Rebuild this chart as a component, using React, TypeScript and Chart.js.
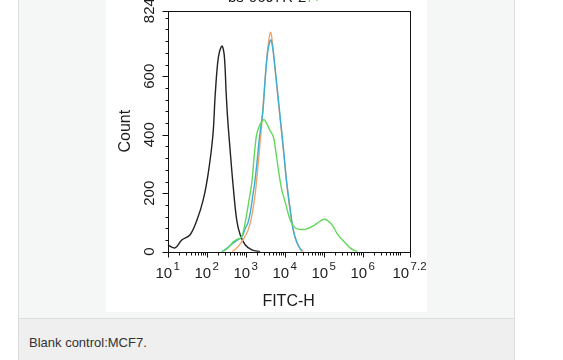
import React, { useEffect, useRef } from "react";
import { Chart, registerables } from "chart.js";

Chart.register(...registerables);

// FITC-H position in decades (log10 of intensity) and cell counts
const blankLog = [1.0, 1.19, 1.36, 1.57, 1.75, 1.91, 2.04, 2.16, 2.22, 2.3, 2.39, 2.45, 2.5, 2.54, 2.6, 2.68, 2.77, 2.86, 2.99, 3.16, 3.37];
const blankCount = [23, 13, 40, 57, 108, 177, 269, 400, 540, 665, 703, 672, 540, 450, 348, 222, 108, 57, 23, 6, 0];

const orangeLog = [2.65, 2.75, 2.85, 2.95, 3.05, 3.12, 3.18, 3.24, 3.3, 3.36, 3.42, 3.48, 3.54, 3.6, 3.64, 3.68, 3.74, 3.8, 3.87, 3.94, 4.01, 4.08, 4.16, 4.25, 4.35, 4.48];
const orangeCount = [0, 10, 25, 45, 70, 100, 140, 195, 270, 360, 450, 560, 660, 730, 750, 720, 640, 560, 470, 380, 290, 200, 120, 55, 20, 0];

const cyanLog = [2.39, 2.55, 2.68, 2.81, 2.91, 2.99, 3.06, 3.12, 3.18, 3.24, 3.3, 3.36, 3.44, 3.5, 3.56, 3.62, 3.65, 3.7, 3.76, 3.83, 3.9, 3.97, 4.04, 4.12, 4.22, 4.32, 4.44];
const cyanCount = [0, 15, 30, 42, 52, 80, 100, 135, 190, 245, 320, 400, 480, 590, 680, 720, 724, 690, 620, 530, 440, 350, 250, 166, 74, 30, 0];

const greenLog = [2.39, 2.5, 2.6, 2.68, 2.78, 2.86, 2.92, 2.98, 3.03, 3.09, 3.16, 3.22, 3.28, 3.35, 3.42, 3.47, 3.55, 3.62, 3.71, 3.78, 3.84, 3.92, 4.02, 4.14, 4.24, 4.32, 4.45, 4.57, 4.7, 4.83, 4.95, 5.04, 5.12, 5.22, 5.34, 5.45, 5.56, 5.67, 5.77, 5.87];
const greenCount = [0, 8, 20, 34, 42, 46, 60, 95, 132, 180, 240, 330, 400, 430, 445, 452, 435, 415, 393, 335, 279, 215, 166, 108, 85, 78, 76, 78, 86, 97, 108, 111, 104, 91, 63, 44, 29, 14, 5, 0];

const xMajorTicks = [1, 2, 3, 4, 5, 6, 7.2];
const xTickExponents = ["1", "2", "3", "4", "5", "6", "7.2"];
const yMajorTicks = [0, 200, 400, 600, 824];
const yTickLabels = ["0", "200", "400", "600", "824"];

const titleBlack = "bs-0697R-2";
const titleGreen = "/+";
const xTitle = "FITC-H";
const yTitle = "Count";
const caption = "Blank control:MCF7.";

const FONT = '"Liberation Sans", Arial, sans-serif';
const INK = "#1c1c1c";

const pts = (xs: number[], ys: number[]) => xs.map((x, i) => ({ x, y: ys[i] }));

const axesPlugin = {
  id: "flowAxes",
  afterDraw(chart: any) {
    const { ctx, chartArea, scales } = chart;
    const xs = scales.x;
    const ys = scales.y;
    const L = Math.round(chartArea.left) + 0.5;
    const R = Math.round(chartArea.right) + 0.5;
    const T = Math.round(chartArea.top) + 0.5;
    const B = Math.round(chartArea.bottom) + 0.5;
    ctx.save();
    ctx.strokeStyle = "#111";
    ctx.lineWidth = 1;
    ctx.strokeRect(L, T, R - L, B - T);

    // y ticks
    ctx.beginPath();
    for (let v = 0; v <= 824; v += 40) {
      const y = Math.round(ys.getPixelForValue(v)) + 0.5;
      ctx.moveTo(L, y);
      ctx.lineTo(L - 3, y);
    }
    yMajorTicks.forEach((v) => {
      const y = Math.round(ys.getPixelForValue(v)) + 0.5;
      ctx.moveTo(L, y);
      ctx.lineTo(L - 6, y);
    });
    // x ticks
    for (let n = 1; n <= 7; n++) {
      for (let k = 2; k <= 9; k++) {
        const d = n + Math.log10(k);
        if (d > 7.2) continue;
        const x = Math.round(xs.getPixelForValue(d)) + 0.5;
        ctx.moveTo(x, B);
        ctx.lineTo(x, B + 3);
      }
    }
    xMajorTicks.forEach((d) => {
      const x = Math.round(xs.getPixelForValue(d)) + 0.5;
      ctx.moveTo(x, B);
      ctx.lineTo(x, B + 5);
    });
    ctx.stroke();

    ctx.fillStyle = INK;
    // y labels rotated
    ctx.font = `15px ${FONT}`;
    ctx.textAlign = "center";
    ctx.textBaseline = "alphabetic";
    yMajorTicks.forEach((v, i) => {
      const y = ys.getPixelForValue(v);
      ctx.save();
      ctx.translate(L - 14.5, y);
      ctx.rotate(-Math.PI / 2);
      ctx.fillText(yTickLabels[i], 0, 0);
      ctx.restore();
    });

    // x labels: 10 with superscript exponent
    xMajorTicks.forEach((d, i) => {
      const cx = xs.getPixelForValue(d);
      ctx.font = `15px ${FONT}`;
      const wBase = ctx.measureText("10").width;
      ctx.font = `11.5px ${FONT}`;
      const wExp = ctx.measureText(xTickExponents[i]).width;
      const start = cx - (wBase + 1.5 + wExp) / 2;
      ctx.textAlign = "left";
      ctx.font = `15px ${FONT}`;
      ctx.fillText("10", start, B + 25.5);
      ctx.font = `11.5px ${FONT}`;
      ctx.fillText(xTickExponents[i], start + wBase + 1.5, B + 17);
    });

    // axis titles
    ctx.font = `16px ${FONT}`;
    ctx.textAlign = "center";
    ctx.fillText(xTitle, (chartArea.left + chartArea.right) / 2, B + 53.5);
    ctx.save();
    ctx.translate(L - 39, (chartArea.top + chartArea.bottom) / 2);
    ctx.rotate(-Math.PI / 2);
    ctx.fillText(yTitle, 0, 0);
    ctx.restore();

    // title (cropped at top)
    ctx.font = `15px ${FONT}`;
    ctx.textAlign = "left";
    const tx = 122;
    ctx.fillStyle = INK;
    ctx.fillText(titleBlack, tx, 14);
    const wt = ctx.measureText(titleBlack).width;
    ctx.fillStyle = "#5fd35a";
    ctx.fillText(titleGreen, tx + wt + 2, 14);
    ctx.restore();
  },
};

function FlowChart() {
  const ref = useRef<HTMLCanvasElement | null>(null);
  useEffect(() => {
    if (!ref.current) return;
    const line = (label: string, data: any, color: string) => ({
      label,
      data,
      borderColor: color,
      borderWidth: 1.4,
      pointRadius: 0,
      tension: 0.35,
      fill: false,
    });
    const chart = new Chart(ref.current, {
      type: "line",
      data: {
        datasets: [
          line("Sample", pts(greenLog, greenCount), "#62d85a"),
          line("Cyan", pts(cyanLog, cyanCount), "#3aaed6"),
          line("Orange", pts(orangeLog, orangeCount), "#f2a46e"),
          line("Blank", pts(blankLog, blankCount), "#222222"),
        ],
      },
      options: {
        animation: false,
        responsive: false,
        events: [],
        layout: { padding: { left: 61.7, right: 17.5, top: 22.7, bottom: 60.3 } },
        plugins: { legend: { display: false }, tooltip: { enabled: false }, title: { display: false } },
        scales: {
          x: { type: "linear", min: 1, max: 7.2, display: false },
          y: { type: "linear", min: 0, max: 824, display: false },
        },
      },
      plugins: [axesPlugin],
    } as any);
    return () => chart.destroy();
  }, []);
  return <canvas ref={ref} width={321} height={324} style={{ width: 321, height: 324, display: "block" }} />;
}

export default function App() {
  return (
    <div style={{ position: "absolute", left: 0, top: 0, width: 563, height: 360, overflow: "hidden", background: "#fff" }}>
      <div
        style={{
          position: "absolute",
          left: 18,
          top: 0,
          width: 495,
          height: 318,
          background: "#f5f7f6",
          borderLeft: "1px solid #dcdcdc",
          borderRight: "1px solid #dcdcdc",
        }}
      />
      <div style={{ position: "absolute", left: 106, top: -12, width: 321, height: 324, background: "#fff" }}>
        <FlowChart />
      </div>
      <div
        style={{
          position: "absolute",
          left: 18,
          top: 318,
          width: 495,
          height: 42,
          background: "#eeefee",
          borderTop: "1px solid #dedede",
          borderLeft: "1px solid #dcdcdc",
          borderRight: "1px solid #dcdcdc",
        }}
      >
        <div
          style={{
            position: "absolute",
            left: 10,
            top: 16,
            font: `13px ${FONT}`,
            color: "#333",
            lineHeight: "15px",
            whiteSpace: "nowrap",
          }}
        >
          {caption}
        </div>
      </div>
    </div>
  );
}
